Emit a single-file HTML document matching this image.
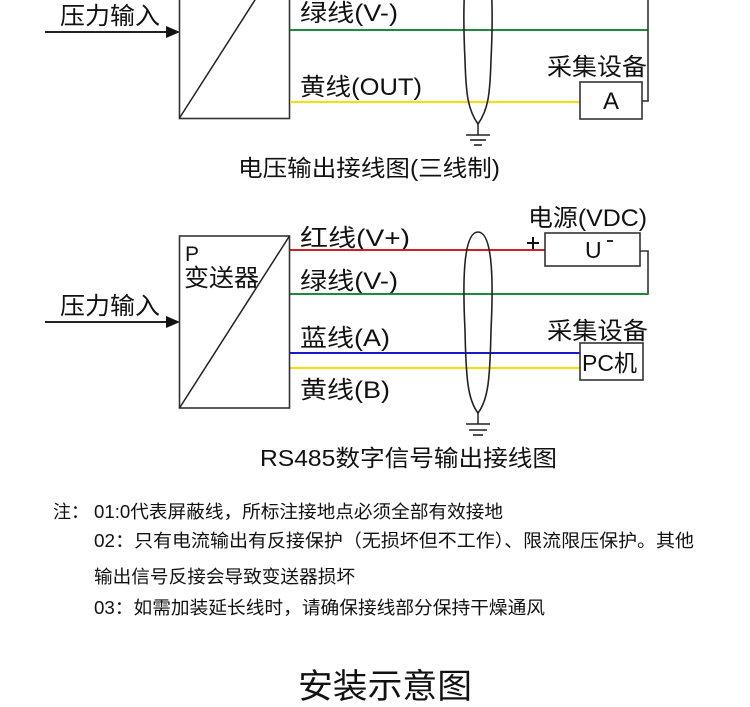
<!DOCTYPE html>
<html><head><meta charset="utf-8"><style>
html,body{margin:0;padding:0;background:#fff;}
svg{display:block;}
text{font-family:"Liberation Sans","Noto Sans CJK SC",sans-serif;fill:#111;}
</style></head><body>
<svg width="750" height="707" viewBox="0 0 750 707" xmlns="http://www.w3.org/2000/svg">
<rect width="750" height="707" fill="#fff"/>
<!-- ===== Top section ===== -->
<text x="60" y="24" font-size="24" textLength="100" lengthAdjust="spacingAndGlyphs">压力输入</text>
<line x1="45" y1="32" x2="168" y2="32" stroke="#222" stroke-width="2"/>
<polygon points="166,26 180,32 166,38" fill="#111"/>
<rect x="179.5" y="-54" width="110" height="172.5" fill="none" stroke="#333" stroke-width="1.6"/>
<line x1="179.5" y1="118" x2="289.5" y2="-54" stroke="#222" stroke-width="1.5"/>
<text x="300" y="21" font-size="24" textLength="98" lengthAdjust="spacingAndGlyphs">绿线(V-)</text>
<line x1="290" y1="30" x2="648" y2="30" stroke="#1e8a3c" stroke-width="2"/>
<text x="300" y="95" font-size="24" textLength="122" lengthAdjust="spacingAndGlyphs">黄线(OUT)</text>
<line x1="290" y1="102" x2="580" y2="102" stroke="#f2dc20" stroke-width="2.2"/>
<line x1="648" y1="0" x2="648" y2="101" stroke="#333" stroke-width="1.6"/>
<line x1="642" y1="101" x2="648.8" y2="101" stroke="#333" stroke-width="1.6"/>
<text x="547" y="75" font-size="24" textLength="100" lengthAdjust="spacingAndGlyphs">采集设备</text>
<rect x="580" y="82" width="62" height="37" fill="#fff" stroke="#333" stroke-width="1.6"/>
<text x="611" y="109" font-size="24" text-anchor="middle">A</text>
<path d="M478,-57 C494,-57 493,20 491,60 C490,95 488,110 478,124 C468,110 466,95 465,60 C463,20 462,-57 478,-57 Z" fill="none" stroke="#222" stroke-width="1.6"/>
<line x1="478" y1="124" x2="478" y2="135" stroke="#222" stroke-width="1.5"/>
<line x1="466" y1="135" x2="490" y2="135" stroke="#222" stroke-width="1.6"/>
<line x1="470" y1="140" x2="486" y2="140" stroke="#222" stroke-width="1.6"/>
<line x1="474" y1="145" x2="482" y2="145" stroke="#222" stroke-width="1.6"/>
<text x="238" y="176" font-size="23" textLength="262" lengthAdjust="spacingAndGlyphs">电压输出接线图(三线制)</text>

<!-- ===== Second section ===== -->
<text x="528" y="226" font-size="24" textLength="119" lengthAdjust="spacingAndGlyphs">电源(VDC)</text>
<text x="300" y="246" font-size="24" textLength="110" lengthAdjust="spacingAndGlyphs">红线(V+)</text>
<line x1="290" y1="250" x2="545" y2="250" stroke="#d02020" stroke-width="2"/>
<line x1="527" y1="243" x2="539" y2="243" stroke="#111" stroke-width="2"/>
<line x1="533" y1="237" x2="533" y2="249" stroke="#111" stroke-width="2"/>
<rect x="545" y="233" width="95" height="33" fill="#fff" stroke="#333" stroke-width="1.6"/>
<text x="585" y="258" font-size="23">U</text>
<line x1="607" y1="241" x2="613" y2="241" stroke="#111" stroke-width="1.8"/>
<polyline points="640,251 648,251 648,294" fill="none" stroke="#333" stroke-width="1.6"/>
<text x="300" y="289" font-size="24" textLength="98" lengthAdjust="spacingAndGlyphs">绿线(V-)</text>
<line x1="290" y1="294" x2="648.8" y2="294" stroke="#1e8a3c" stroke-width="2"/>
<text x="547" y="339" font-size="24" textLength="101" lengthAdjust="spacingAndGlyphs">采集设备</text>
<text x="300" y="346" font-size="24" textLength="90" lengthAdjust="spacingAndGlyphs">蓝线(A)</text>
<line x1="290" y1="353" x2="580" y2="353" stroke="#1a1acc" stroke-width="2"/>
<line x1="290" y1="368" x2="580" y2="368" stroke="#f2dc20" stroke-width="2.2"/>
<text x="300" y="398" font-size="24" textLength="90" lengthAdjust="spacingAndGlyphs">黄线(B)</text>
<rect x="580" y="343" width="63" height="37" fill="#fff" stroke="#333" stroke-width="1.6"/>
<text x="582" y="371" font-size="23" textLength="55" lengthAdjust="spacingAndGlyphs">PC机</text>
<path d="M478,232 C494,232 493,290 491,330 C490,380 488,400 478,413 C468,400 466,380 465,330 C463,290 462,232 478,232 Z" fill="none" stroke="#222" stroke-width="1.6"/>
<line x1="478" y1="413" x2="478" y2="424" stroke="#222" stroke-width="1.5"/>
<line x1="466" y1="424" x2="490" y2="424" stroke="#222" stroke-width="1.6"/>
<line x1="469" y1="430" x2="487" y2="430" stroke="#222" stroke-width="1.6"/>
<line x1="473" y1="435" x2="483" y2="435" stroke="#222" stroke-width="1.6"/>

<rect x="179.5" y="236" width="110" height="172" fill="none" stroke="#333" stroke-width="1.6"/>
<line x1="179.5" y1="408" x2="289.5" y2="236" stroke="#222" stroke-width="1.5"/>
<text x="185" y="261" font-size="21">P</text>
<text x="184" y="286" font-size="24" textLength="75" lengthAdjust="spacingAndGlyphs">变送器</text>
<text x="60" y="314" font-size="24" textLength="100" lengthAdjust="spacingAndGlyphs">压力输入</text>
<line x1="45" y1="322" x2="168" y2="322" stroke="#222" stroke-width="2"/>
<polygon points="166,316 180,322 166,328" fill="#111"/>
<text x="260" y="466" font-size="23" textLength="297" lengthAdjust="spacingAndGlyphs">RS485数字信号输出接线图</text>

<!-- ===== Notes ===== -->
<text x="53" y="518" font-size="18" fill="#222">注：</text>
<text x="94" y="518" font-size="18" textLength="409" lengthAdjust="spacingAndGlyphs">01:0代表屏蔽线，所标注接地点必须全部有效接地</text>
<text x="94" y="547" font-size="18" textLength="600" lengthAdjust="spacingAndGlyphs">02：只有电流输出有反接保护（无损坏但不工作）、限流限压保护。其他</text>
<text x="94" y="583" font-size="18" textLength="261" lengthAdjust="spacingAndGlyphs">输出信号反接会导致变送器损坏</text>
<text x="94" y="614" font-size="18" textLength="451" lengthAdjust="spacingAndGlyphs">03：如需加装延长线时，请确保接线部分保持干燥通风</text>

<text x="298" y="698" font-size="34" textLength="174" lengthAdjust="spacingAndGlyphs">安装示意图</text>
</svg>
</body></html>
